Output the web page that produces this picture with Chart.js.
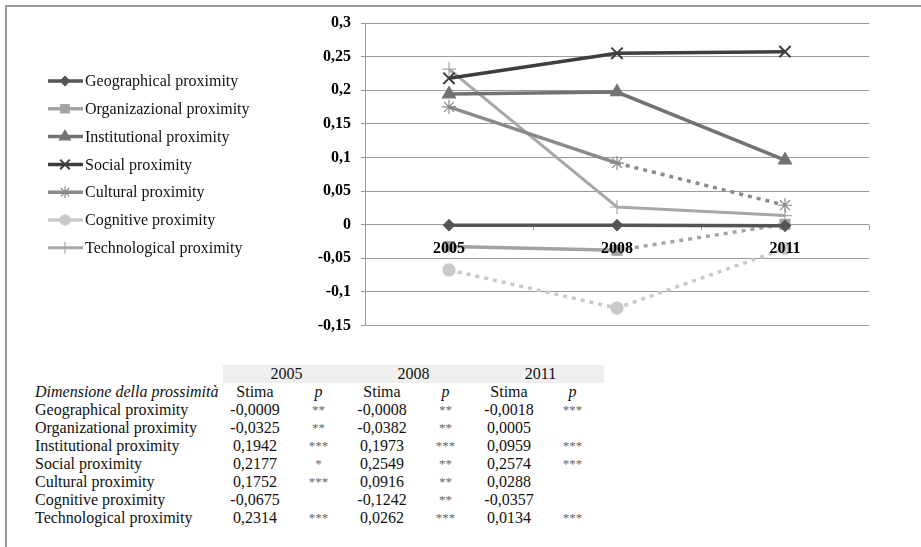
<!DOCTYPE html>
<html>
  <head>
    <title>Dimensione della prossimità</title>
    <style>
      body { margin: 0; background: #fff; font-family: "Liberation Serif", "Times New Roman", serif; }
      #frame { position: absolute; left: 5px; top: 5px; width: 916px; height: 542px;
               border-top: 2px solid #999; border-left: 2px solid #999; }
      #chartBox { position: absolute; left: 0; top: 0; width: 921px; height: 345px; }
      #tbl { position: absolute; left: 35px; top: 365px; border-collapse: collapse; font-size: 16px; color: #111; }
      #tbl td { padding: 0; height: 18px; line-height: 18px; white-space: nowrap; }
      #tbl td.num { text-align: center; }
      #tbl tr.band td.yr { background: #efefef; text-align: center; }
    </style>
  </head>
  <body>
    <div id="frame"></div>
    <div id="chartBox">
      <canvas id="myChart"></canvas>
    </div>
    <table id="tbl"></table>

    <script src="https://cdn.jsdelivr.net/npm/chart.js"></script>
    <script>

    // data
    const years = ['2005', '2008', '2011'];
    const legendNames = ['Geographical proximity', 'Organizazional proximity', 'Institutional proximity',
      'Social proximity', 'Cultural proximity', 'Cognitive proximity', 'Technological proximity'];
    const tableNames = ['Geographical proximity', 'Organizational proximity', 'Institutional proximity',
      'Social proximity', 'Cultural proximity', 'Cognitive proximity', 'Technological proximity'];

    const geographical = [-0.0009, -0.0008, -0.0018];
    const organizational = [-0.0325, -0.0382, 0.0005];
    const institutional = [0.1942, 0.1973, 0.0959];
    const social = [0.2177, 0.2549, 0.2574];
    const cultural = [0.1752, 0.0916, 0.0288];
    const cognitive = [-0.0675, -0.1242, -0.0357];
    const technological = [0.2314, 0.0262, 0.0134];

    const geographicalP = ['**', '**', '***'];
    const organizationalP = ['**', '**', ''];
    const institutionalP = ['***', '***', '***'];
    const socialP = ['*', '**', '***'];
    const culturalP = ['***', '**', ''];
    const cognitiveP = ['', '**', ''];
    const technologicalP = ['***', '***', '***'];

    const yTicks = { min: -0.15, max: 0.3, step: 0.05 };

    const allValues = [geographical, organizational, institutional, social, cultural, cognitive, technological];
    const allP = [geographicalP, organizationalP, institutionalP, socialP, culturalP, cognitiveP, technologicalP];

    // looks
    const colors = ['#555555', '#a3a3a3', '#727272', '#3e3e3e', '#8a8a8a', '#c9c9c9', '#a8a8a8'];
    const styles = ['rectRot', 'rect', 'triangle', 'crossRot', 'star', 'circle', 'cross'];
    const radii = [5.5, 7, 7.5, 8, 7, 6, 7];
    const widths = [3.5, 3.5, 3.5, 3.5, 3.5, 3.5, 3];

    const fontFam = '"Liberation Serif", "Times New Roman", serif';
    Chart.defaults.font.family = fontFam;

    function fmt(v) {
      return v.toFixed(4).replace('.', ',');
    }

    // not significant -> dotted segment
    function dashFor(i) {
      return function (ctx) {
        const p = allP[i];
        if (p[ctx.p0DataIndex] === '' || p[ctx.p1DataIndex] === '') return [4, 5];
        return undefined;
      };
    }

    const datasets = allValues.map((vals, i) => ({
      label: legendNames[i],
      data: vals,
      borderColor: colors[i],
      backgroundColor: colors[i],
      borderWidth: widths[i],
      pointStyle: styles[i],
      pointRadius: radii[i],
      pointHoverRadius: radii[i],
      pointBorderColor: colors[i],
      pointBackgroundColor: colors[i],
      pointBorderWidth: (styles[i] === 'crossRot') ? 2 : 1.2,
      tension: 0,
      segment: { borderDash: dashFor(i) }
    }));

    // legend on the left, line + marker like the original
    const sideLegend = {
      id: 'sideLegend',
      afterDraw(chart) {
        const ctx = chart.ctx;
        ctx.save();
        chart.data.datasets.forEach((ds, i) => {
          const y = 81 + i * 27.8;
          ctx.strokeStyle = ds.borderColor;
          ctx.lineWidth = ds.borderWidth;
          ctx.setLineDash([]);
          ctx.beginPath();
          ctx.moveTo(48, y);
          ctx.lineTo(83, y);
          ctx.stroke();
          ctx.fillStyle = ds.pointBackgroundColor;
          ctx.strokeStyle = ds.pointBorderColor;
          ctx.lineWidth = ds.pointBorderWidth;
          Chart.helpers.drawPoint(ctx, { pointStyle: ds.pointStyle, radius: ds.pointRadius * 0.85, rotation: 0, borderWidth: ds.pointBorderWidth }, 65, y);
          ctx.fillStyle = '#111';
          ctx.font = '16px ' + fontFam;
          ctx.textBaseline = 'middle';
          ctx.textAlign = 'left';
          ctx.fillText(ds.label, 85, y + 1);
        });
        ctx.restore();
      }
    };

    const ctx = document.getElementById('myChart');

    new Chart(ctx, {
      type: 'line',
      data: { labels: years, datasets: datasets },
      options: {
        responsive: true,
        maintainAspectRatio: false,
        animation: false,
        layout: { padding: { left: 305, right: 52, top: 23, bottom: 14 } },
        plugins: { legend: { display: false }, tooltip: { enabled: false } },
        scales: {
          x: {
            position: { y: 0 },
            offset: true,
            afterFit: s => { s.height = 0; },
            grid: { offset: true, drawOnChartArea: false, drawTicks: true, tickLength: 5, color: '#999' },
            border: { display: false },
            // z: 1 -> year labels sit over the markers
            ticks: { z: 1, color: '#000', padding: 10, font: { size: 16, weight: 'bold' } }
          },
          y: {
            min: yTicks.min,
            max: yTicks.max,
            afterFit: s => { s.width = 60; },
            grid: { color: '#9a9a9a', lineWidth: 1, tickLength: 4 },
            border: { color: '#999', width: 1 },
            ticks: {
              stepSize: yTicks.step,
              padding: 10,
              color: '#000',
              font: { size: 16, weight: 'bold' },
              callback: v => String(Math.round(v * 100) / 100).replace('.', ',')
            }
          }
        }
      },
      plugins: [sideLegend]
    });

    // table under the chart, from the same arrays
    const tbl = document.getElementById('tbl');
    let html = '<colgroup><col style="width:188px">';
    for (let k = 0; k < 3; k++) html += '<col style="width:64px"><col style="width:63px">';
    html += '</colgroup>';
    html += '<tr class="band"><td></td>';
    years.forEach(y => { html += '<td class="yr" colspan="2">' + y + '</td>'; });
    html += '</tr>';
    html += '<tr><td><i>Dimensione della prossimità</i></td>';
    years.forEach(() => { html += '<td class="num">Stima</td><td class="num"><i>p</i></td>'; });
    html += '</tr>';
    tableNames.forEach((name, i) => {
      html += '<tr><td>' + name + '</td>';
      allValues[i].forEach((v, j) => {
        html += '<td class="num">' + fmt(v) + '</td><td class="num" style="color:#666;font-size:13px">' + allP[i][j] + '</td>';
      });
      html += '</tr>';
    });
    tbl.innerHTML = html;

    </script>
  </body>
</html>
